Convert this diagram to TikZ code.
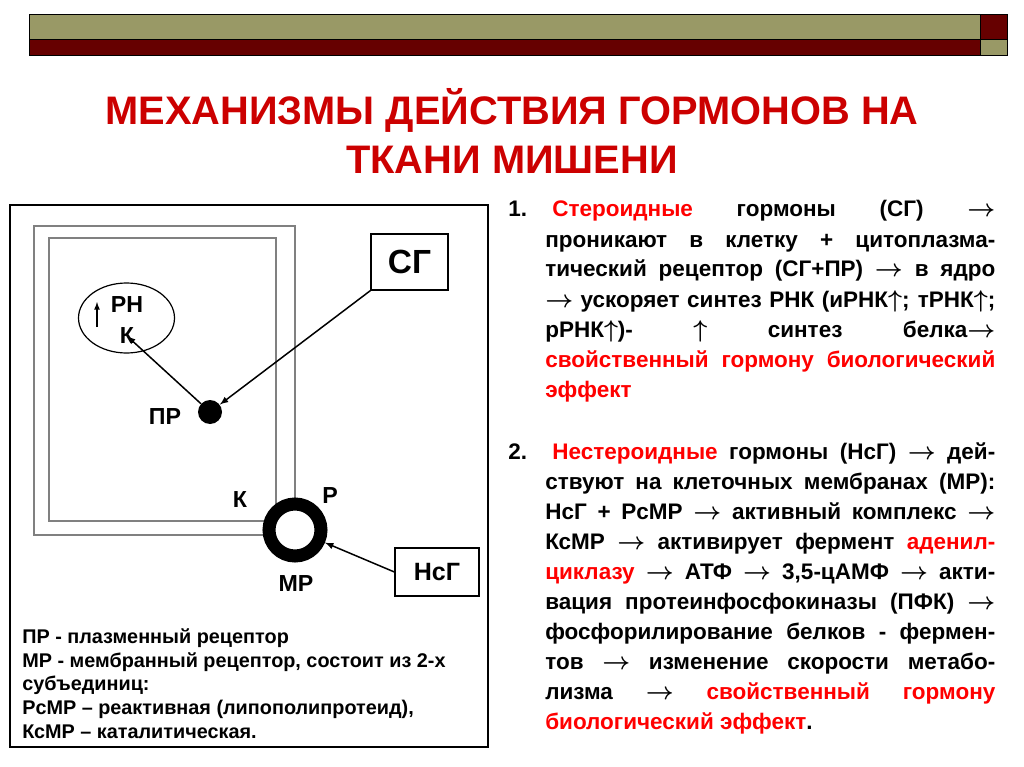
\documentclass[tikz,border=0pt]{standalone}
\usepackage{fontspec}
\setmainfont{Liberation Sans}
\usepackage{bm}
\usepackage{tikz}
\usetikzlibrary{arrows,shapes.geometric}

\newlength\pu
\setlength\pu{0.025cm}
\definecolor{barolive}{RGB}{153,153,102}
\definecolor{barred}{RGB}{102,0,0}
\definecolor{titlered}{RGB}{204,0,0}
\definecolor{hlred}{RGB}{255,0,0}
\newcommand{\jline}[2]{\makebox[#1\pu][s]{#2}}
\newcommand{\rarr}{\ensuremath{\bm{\rightarrow}}}
\newcommand{\uarr}{\ensuremath{\bm{\uparrow}}}

\begin{document}
\begin{tikzpicture}[x=1\pu,y=-1\pu,>=latex,
    ttl/.style={font=\fontsize{28.3pt}{34pt}\selectfont\bfseries,text=titlered,anchor=base,inner sep=0},
    rtxt/.style={font=\fontsize{16pt}{21pt}\selectfont\bfseries,anchor=base west,inner sep=0},
    leg/.style={font=\fontsize{14.1pt}{17pt}\selectfont\bfseries,anchor=base west,inner sep=0},
    lbl/.style={font=\fontsize{16.5pt}{18pt}\selectfont\bfseries,inner sep=0},
    cellwall/.style={draw=gray,line width=1.2\pu},
    hormone/.style={draw,line width=1.2\pu,inner sep=0}]
          \useasboundingbox (0,0) rectangle (1024,767);
          \fill[white] (0,0) rectangle (1024,767);
          % top bars
          \fill[barolive] (29,15) rectangle (980,40);
          \fill[barred] (29,40) rectangle (980,56);
          \fill[barred] (980,15) rectangle (1007,40);
          \fill[barolive] (980,40) rectangle (1007,56);
          \draw[line width=1\pu] (29,15) rectangle (1007,56)
                (29,40) -- (1007,40) (980,15) -- (980,56);
          % title
          \node[ttl] (title1) at (512,125) {МЕХАНИЗМЫ ДЕЙСТВИЯ ГОРМОНОВ НА};
          \node[ttl] (title2) at (512,173.5) {ТКАНИ МИШЕНИ};
          % left panel
          \draw[line width=2.5\pu] (10,205) rectangle (488,747);
          \draw[cellwall] (34,226) rectangle (295,535);
          \draw[cellwall] (49,238) rectangle (276,521);
          \node[ellipse,draw,line width=1.2\pu,minimum width=96\pu,minimum height=70\pu] (nuc) at (126.5,318) {};
          \node[lbl] (rn) at (127,305) {РН};
          \node[lbl] (kn) at (127,336) {К};
          \coordinate (up0) at (97,327);
          \coordinate (up1) at (97,302);
          \draw[->,line width=1.2\pu] (up0) -- (up1);
          \node[circle,fill,minimum size=24\pu,inner sep=0] (pr) at (210,412) {};
          \node[lbl] (prl) at (165,417) {ПР};
          \node[circle,draw,fill=white,line width=13\pu,minimum size=52\pu,inner sep=0] (mr) at (295,530) {};
          \node[lbl] (kl) at (240,500) {К};
          \node[lbl] (rl) at (330,496) {Р};
          \node[lbl] (mrl) at (296,584) {МР};
          \node[hormone,minimum width=77\pu,minimum height=56\pu,font=\fontsize{23.8pt}{26pt}\selectfont\bfseries] (sg) at (409.5,262) {СГ};
          \node[hormone,minimum width=84\pu,minimum height=48\pu,font=\fontsize{17.8pt}{20pt}\selectfont\bfseries] (nsg) at (437,572) {НсГ};
          \draw[->,line width=1.5\pu] (sg.south west) -- (pr);
          \draw[->,line width=1.5\pu] (pr) -- (kn.center);
          \draw[->,line width=1.5\pu] (nsg.west) -- (mr);
          % legend
          \node[leg] (leg1) at (22,643) {ПР - плазменный рецептор};
          \node[leg] (leg2) at (22,667) {МР - мембранный рецептор, состоит из 2-х};
          \node[leg] (leg3) at (22,690.5) {субъединиц:};
          \node[leg] (leg4) at (22,714) {РсМР -- реактивная (липополипротеид),};
          \node[leg] (leg5) at (22,738) {КсМР -- каталитическая.};
          % steroid hormones
          \node[rtxt] (n1) at (508,217) {1.};
          \node[rtxt] (a1) at (552,217) {\jline{443}{\textcolor{hlred}{Стероидные} гормоны (СГ) \rarr}};
          \node[rtxt] (a2) at (545,247) {\jline{450}{проникают в клетку + цитоплазма-}};
          \node[rtxt] (a3) at (545,277) {\jline{450}{тический рецептор (СГ+ПР) \rarr{} в ядро}};
          \node[rtxt] (a4) at (545,307) {\jline{450}{\rarr{} ускоряет синтез РНК (иРНК\uarr; тРНК\uarr;}};
          \node[rtxt] (a5) at (545,337) {\jline{450}{рРНК\uarr)- \uarr{} синтез белка\rarr}};
          \node[rtxt,text=hlred] (a6) at (545,367) {\jline{450}{свойственный гормону биологический}};
          \node[rtxt,text=hlred] (a7) at (545,397) {эффект};
          % non-steroid hormones
          \node[rtxt] (n2) at (508,459) {2.};
          \node[rtxt] (b1) at (552,459) {\jline{443}{\textcolor{hlred}{Нестероидные} гормоны (НсГ) \rarr{} дей-}};
          \node[rtxt] (b2) at (545,489) {\jline{450}{ствуют на клеточных мембранах (МР):}};
          \node[rtxt] (b3) at (545,519) {\jline{450}{НсГ + РсМР \rarr{} активный комплекс \rarr}};
          \node[rtxt] (b4) at (545,549) {\jline{450}{КсМР \rarr{} активирует фермент \textcolor{hlred}{аденил-}}};
          \node[rtxt] (b5) at (545,579) {\jline{450}{\textcolor{hlred}{циклазу} \rarr{} АТФ \rarr{} 3,5-цАМФ \rarr{} акти-}};
          \node[rtxt] (b6) at (545,609) {\jline{450}{вация протеинфосфокиназы (ПФК) \rarr}};
          \node[rtxt] (b7) at (545,639) {\jline{450}{фосфорилирование белков - фермен-}};
          \node[rtxt] (b8) at (545,669) {\jline{450}{тов \rarr{} изменение скорости метабо-}};
          \node[rtxt] (b9) at (545,699) {\jline{450}{лизма \rarr{} \textcolor{hlred}{свойственный гормону}}};
          \node[rtxt] (b10) at (545,729) {\textcolor{hlred}{биологический эффект}.};
        \end{tikzpicture}
\end{document}
